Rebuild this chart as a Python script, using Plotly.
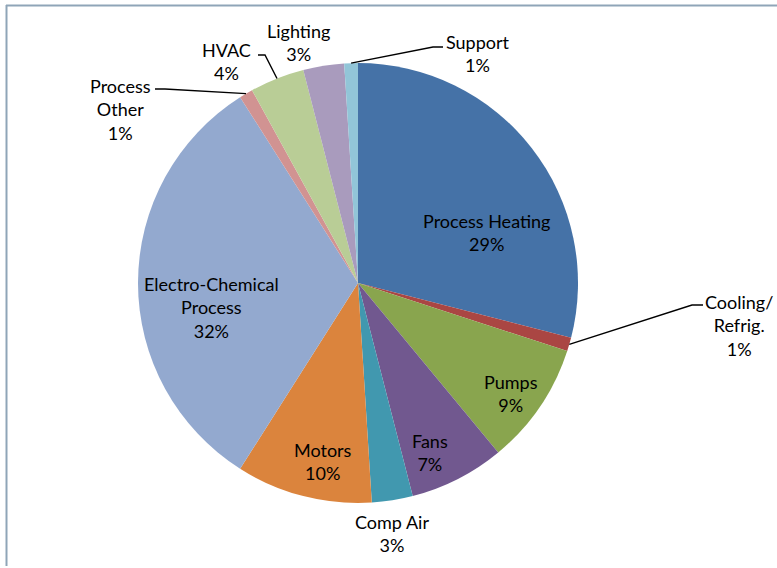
import math
import plotly.graph_objects as go

# Energy end-use shares (percent)
categories = [
    "Process Heating", "Cooling/Refrig.", "Pumps", "Fans", "Comp Air", "Motors",
    "Electro-Chemical Process", "Process Other", "HVAC", "Lighting", "Support",
]
shares = [29, 1, 9, 7, 3, 10, 32, 1, 4, 3, 1]
label_lines = [
    ["Process Heating"], ["Cooling/", "Refrig."], ["Pumps"], ["Fans"], ["Comp Air"],
    ["Motors"], ["Electro-Chemical", "Process"], ["Process", "Other"], ["HVAC"],
    ["Lighting"], ["Support"],
]
colors = [
    "#4572A7", "#AA4643", "#89A54E", "#71588F", "#4198AF", "#DB843D",
    "#93A9CF", "#D19392", "#B9CD96", "#A99BBD", "#92C5D8",
]

W, H = 777, 568
CX, CY, R = 358, 283, 220  # pie centre and radius in pixels

# label block centres (pixels) and leader-line elbows for outside labels
label_center = {
    "Process Heating": (486, 233),
    "Cooling/Refrig.": (739, 325),
    "Pumps": (511, 393),
    "Fans": (430, 452),
    "Comp Air": (392, 533),
    "Motors": (323, 461),
    "Electro-Chemical Process": (212, 307),
    "Process Other": (120, 109),
    "HVAC": (226, 62),
    "Lighting": (298, 42),
    "Support": (478, 54),
}
leader_elbow = {
    "Cooling/Refrig.": [(692, 305), (703, 305)],
    "Process Other": [(165, 89), (155, 89)],
    "HVAC": [(265, 55), (258, 55)],
    "Support": [(433, 47), (443, 47)],
}


def px(x):
    return x / W


def py(y):
    return 1 - y / H


fig = go.Figure(
    go.Pie(
        labels=categories,
        values=shares,
        sort=False,
        direction="clockwise",
        rotation=0,
        marker=dict(colors=colors, line=dict(width=0)),
        textinfo="none",
        hoverinfo="label+percent",
        showlegend=False,
        domain=dict(x=[px(CX - R), px(CX + R)], y=[py(CY + R), py(CY - R)]),
    )
)

font = dict(family="Lato, Carlito, sans-serif", size=18, color="#000000")
annotations = []
shapes = []
total = sum(shares)
cum = 0
for name, val, lines in zip(categories, shares, label_lines):
    mid = (cum + val / 2) / total * 2 * math.pi
    cum += val
    pct = f"{round(val / total * 100)}%"
    cx, cy = label_center[name]
    annotations.append(dict(
        x=px(cx), y=py(cy), xref="paper", yref="paper",
        text="<br>".join(lines + [pct]), showarrow=False,
        xanchor="center", yanchor="middle", align="center", font=font,
    ))
    if name in leader_elbow:
        ax = CX + R * math.sin(mid)
        ay = CY - R * math.cos(mid)
        pts = [(ax, ay)] + leader_elbow[name]
        path = "M " + " L ".join(f"{px(x)},{py(y)}" for x, y in pts)
        shapes.append(dict(type="path", xref="paper", yref="paper", path=path,
                           line=dict(color="#000000", width=1.4)))

# chart-area frame (runs off the right and bottom edges)
shapes.append(dict(type="line", xref="paper", yref="paper",
                   x0=px(6), y0=py(5.5), x1=1.02, y1=py(5.5),
                   line=dict(color="#8FA5B8", width=2)))
shapes.append(dict(type="line", xref="paper", yref="paper",
                   x0=px(6.5), y0=py(5), x1=px(6.5), y1=py(566),
                   line=dict(color="#8FA5B8", width=2)))

fig.update_layout(
    width=W, height=H,
    margin=dict(l=0, r=0, t=0, b=0),
    paper_bgcolor="#FFFFFF", plot_bgcolor="#FFFFFF",
    annotations=annotations, shapes=shapes,
)

fig.write_html("out.html")
